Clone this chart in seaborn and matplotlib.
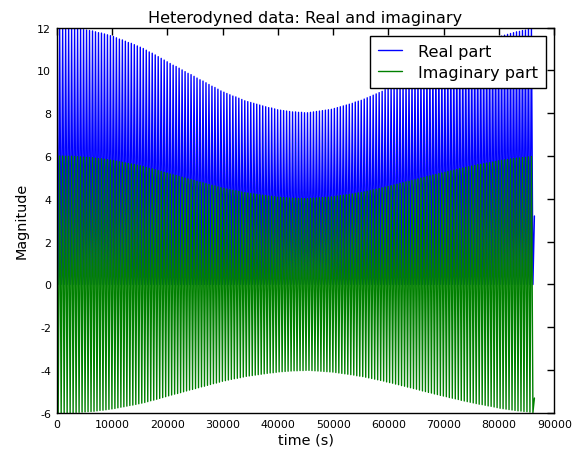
import numpy as np
import pandas as pd
import matplotlib
matplotlib.use("Agg")
import matplotlib.pyplot as plt
import seaborn as sns

# ---- data ----
# amplitude of the heterodyned signal, one value per 540 s cycle
cycle_period_s = 540
amplitude = [
    6.00, 6.00, 6.00, 5.99, 5.99, 5.99, 5.98, 5.97, 5.96, 5.95,
    5.94, 5.93, 5.92, 5.90, 5.88, 5.87, 5.85, 5.83, 5.81,
    5.79, 5.76, 5.73, 5.71, 5.68, 5.65, 5.63, 5.60, 5.57,
    5.54, 5.51, 5.47, 5.43, 5.40, 5.36, 5.32, 5.28, 5.24, 5.20,
    5.16, 5.12, 5.09, 5.05, 5.01, 4.97, 4.93, 4.90, 4.86,
    4.82, 4.78, 4.75, 4.71, 4.67, 4.63, 4.60, 4.56, 4.52,
    4.49, 4.46, 4.43, 4.40, 4.38, 4.35, 4.32, 4.29, 4.27,
    4.25, 4.23, 4.21, 4.19, 4.17, 4.15, 4.13, 4.12, 4.10, 4.08,
    4.07, 4.06, 4.05, 4.04, 4.03, 4.03, 4.02, 4.02, 4.01,
    4.01, 4.02, 4.03, 4.04, 4.05, 4.06, 4.07, 4.08, 4.09,
    4.11, 4.13, 4.15, 4.17, 4.19, 4.21, 4.23, 4.26, 4.28,
    4.30, 4.33, 4.36, 4.39, 4.42, 4.45, 4.48, 4.51, 4.55, 4.58,
    4.61, 4.65, 4.68, 4.72, 4.75, 4.79, 4.82, 4.86, 4.89,
    4.93, 4.97, 5.00, 5.04, 5.07, 5.11, 5.14, 5.18, 5.21,
    5.24, 5.28, 5.31, 5.34, 5.37, 5.41, 5.44, 5.47, 5.50,
    5.53, 5.56, 5.59, 5.61, 5.64, 5.67, 5.69, 5.72, 5.75, 5.78,
    5.80, 5.82, 5.84, 5.86, 5.88, 5.90, 5.91, 5.93, 5.94,
    5.96, 5.98,
]
# the signal is sampled twice per cycle, landing near its extremes
phase_frac = [0.0, 0.5]
real_shape = [2.0, 0.0]
imag_shape = [1.0, -1.0]
# final sample of the record
end_time = 86400
end_real = 3.2
end_imag = -5.3

x_ticks = [0, 10000, 20000, 30000, 40000, 50000, 60000, 70000, 80000, 90000]
y_ticks = [-6, -4, -2, 0, 2, 4, 6, 8, 10, 12]

# ---- assemble series ----
amp = np.asarray(amplitude)
k = np.arange(len(amp))
t = (k[:, None] + np.asarray(phase_frac)[None, :]) * cycle_period_s
real = amp[:, None] * np.asarray(real_shape)[None, :]
imag = amp[:, None] * np.asarray(imag_shape)[None, :]
t = np.append(t.ravel(), end_time)
real = np.append(real.ravel(), end_real)
imag = np.append(imag.ravel(), end_imag)
df = pd.DataFrame({"time": t, "real": real, "imag": imag})

# ---- style ----
sns.set_theme(style="white")
plt.rcParams.update({
    "font.family": ["DejaVu Sans"],
    "axes.edgecolor": "black",
    "axes.linewidth": 1.0,
    "xtick.color": "black",
    "ytick.color": "black",
    "text.color": "black",
    "axes.labelcolor": "black",
})

fig = plt.figure(figsize=(5.72, 4.52), dpi=100)
fig.patch.set_facecolor("white")
ax = fig.add_axes([0.0991, 0.0841, 0.8700, 0.8528])

sns.lineplot(data=df, x="time", y="real", color=(0, 0, 1), lw=1.0,
             sort=False, estimator=None, ax=ax, label="Real part")
sns.lineplot(data=df, x="time", y="imag", color=(0, 0.5, 0), lw=1.0,
             sort=False, estimator=None, ax=ax, label="Imaginary part")

ax.set_xlim(0, 90000)
ax.set_ylim(-6, 12)
ax.set_xticks(x_ticks)
ax.set_yticks(y_ticks)
ax.set_xticklabels([str(v) for v in x_ticks])
ax.set_yticklabels([str(v) for v in y_ticks])
ax.tick_params(direction="in", top=True, right=True, length=5, width=1,
               labelsize=7.9, pad=4)
for s in ax.spines.values():
    s.set_visible(True)
    s.set_color("black")
    s.set_linewidth(1.0)

ax.set_title("Heterodyned data: Real and imaginary", fontsize=11.6, pad=4)
ax.set_xlabel("time (s)", fontsize=10.4, labelpad=3)
ax.set_ylabel("Magnitude", fontsize=10.4, labelpad=6)

leg = ax.legend(loc="upper right", fontsize=11.6, frameon=True, fancybox=False,
                framealpha=1, edgecolor="black", borderpad=0.5,
                handlelength=1.5, handletextpad=1.0, labelspacing=0.4,
                borderaxespad=0.5)
leg.get_frame().set_linewidth(1.0)

fig.savefig("out.png", dpi=100, facecolor="white")
